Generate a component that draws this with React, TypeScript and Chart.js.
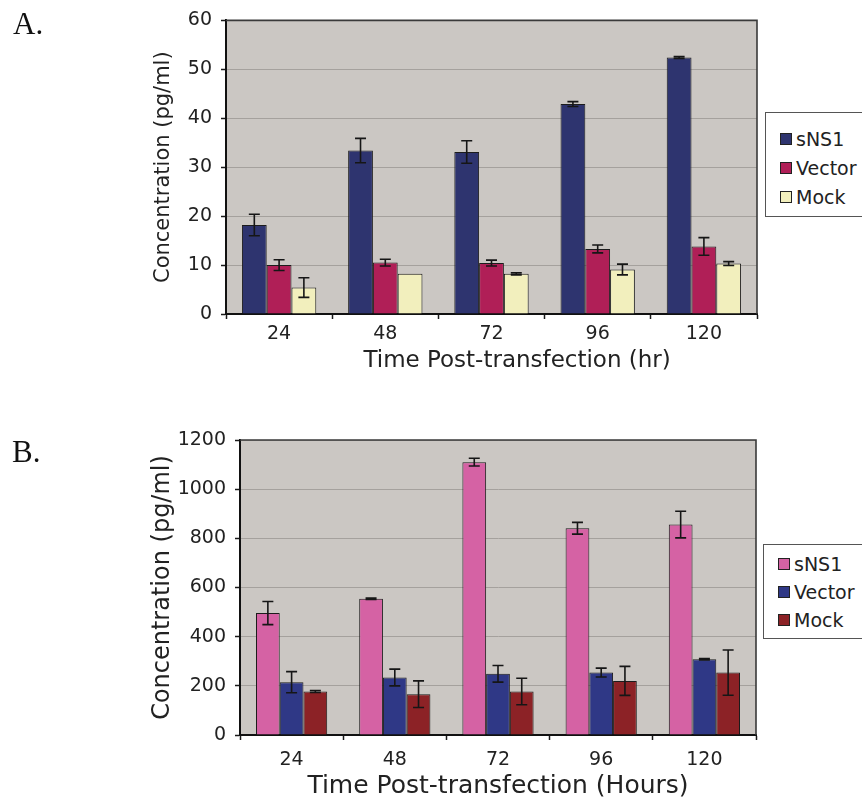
import React, { useEffect, useRef } from 'react';
import { Chart, registerables } from 'chart.js';

Chart.register(...registerables);

// ---------- data ----------
const categories = ['24', '48', '72', '96', '120'];
const seriesNames = ['sNS1', 'Vector', 'Mock'];

// Panel A (pg/ml)
const aSNS1 = [18.2, 33.4, 33.1, 42.9, 52.4];
const aSNS1Err = [2.2, 2.5, 2.3, 0.5, 0.2];
const aVector = [10.0, 10.5, 10.4, 13.3, 13.8];
const aVectorErr = [1.1, 0.7, 0.6, 0.8, 1.8];
const aMock = [5.4, 8.2, 8.2, 9.1, 10.3];
const aMockErr = [2.0, 0, 0.2, 1.1, 0.4];
const aYMax = 60;
const aYStep = 10;

// Panel B (pg/ml)
const bSNS1 = [496, 554, 1110, 841, 856];
const bSNS1Err = [47, 3, 16, 24, 54];
const bVector = [215, 234, 249, 254, 308];
const bVectorErr = [43, 34, 34, 18, 3];
const bMock = [177, 166, 177, 220, 254];
const bMockErr = [4, 54, 54, 59, 92];
const bYMax = 1200;
const bYStep = 200;

const aColors = ['#2e346f', '#b01f57', '#f2efbd'];
const bColors = ['#d562a4', '#2f3886', '#8c2226'];

const yTitle = 'Concentration (pg/ml)';
const aXTitle = 'Time Post-transfection (hr)';
const bXTitle = 'Time Post-transfection (Hours)';

// ---------- style ----------
const FONT = "'DejaVu Sans', 'Liberation Sans', Arial, sans-serif";
const TEXT = '#222222';
const PLOT_BG = '#cbc7c3';
const GRID = '#a5a19d';

const errorBarPlugin = {
  id: 'errorBars',
  afterDatasetsDraw(chart: any, _args: any, opts: any) {
    const errs: number[][] = opts.errors || [];
    const ctx = chart.ctx;
    const y = chart.scales.y;
    ctx.save();
    ctx.strokeStyle = '#161616';
    ctx.lineWidth = 1.6;
    chart.data.datasets.forEach((ds: any, i: number) => {
      const meta = chart.getDatasetMeta(i);
      const e = errs[i] || [];
      meta.data.forEach((el: any, j: number) => {
        const err = e[j];
        if (!err) return;
        const v = ds.data[j];
        const yt = y.getPixelForValue(v + err);
        const yb = y.getPixelForValue(v - err);
        const x = el.x;
        ctx.beginPath();
        ctx.moveTo(x, yt);
        ctx.lineTo(x, yb);
        ctx.moveTo(x - 5.5, yt);
        ctx.lineTo(x + 5.5, yt);
        ctx.moveTo(x - 5.5, yb);
        ctx.lineTo(x + 5.5, yb);
        ctx.stroke();
      });
    });
    ctx.restore();
  },
};

const framePlugin = {
  id: 'plotFrame',
  beforeDraw(chart: any) {
    const { ctx, chartArea: a } = chart;
    ctx.save();
    ctx.fillStyle = PLOT_BG;
    ctx.fillRect(a.left, a.top, a.right - a.left, a.bottom - a.top);
    ctx.restore();
  },
  afterDraw(chart: any) {
    const { ctx, chartArea: a } = chart;
    ctx.save();
    ctx.strokeStyle = '#3a3a3a';
    ctx.lineWidth = 1.6;
    ctx.beginPath();
    ctx.moveTo(a.left, a.top);
    ctx.lineTo(a.right, a.top);
    ctx.lineTo(a.right, a.bottom);
    ctx.stroke();
    ctx.restore();
  },
};

type PanelProps = {
  top: number;
  height: number;
  values: number[][];
  errors: number[][];
  colors: string[];
  yMax: number;
  yStep: number;
  xTitle: string;
  layout: {
    padTop: number;
    padRight: number;
    yWidth: number;
    xHeight: number;
    yTitleSize: number;
    yTitlePad: number;
    xTitleSize: number;
    xTitlePad: number;
    xTitleIndent: number;
    xTickPad: number;
    catPct: number;
  };
};

function Panel(p: PanelProps) {
  const ref = useRef<HTMLCanvasElement | null>(null);
  useEffect(() => {
    if (!ref.current) return;
    const L = p.layout;
    const chart = new Chart(ref.current, {
      type: 'bar',
      data: {
        labels: categories,
        datasets: seriesNames.map((name, i) => ({
          label: name,
          data: p.values[i],
          backgroundColor: p.colors[i],
          borderColor: '#1c1c1c',
          borderWidth: 1,
          categoryPercentage: L.catPct,
          barPercentage: 1.0,
        })),
      },
      options: {
        responsive: false,
        animation: false,
        devicePixelRatio: 1,
        layout: { padding: { left: 0, right: L.padRight, top: L.padTop, bottom: 0 } },
        plugins: {
          legend: { display: false },
          tooltip: { enabled: false },
          errorBars: { errors: p.errors },
        } as any,
        scales: {
          x: {
            grid: {
              display: true,
              drawOnChartArea: false,
              drawTicks: true,
              tickLength: 5,
              tickColor: '#1a1a1a',
              tickWidth: 1.5,
              offset: true,
            },
            border: { display: true, color: '#111111', width: 2 },
            ticks: { padding: L.xTickPad, color: TEXT, font: { family: FONT, size: 19 } },
            title: {
              display: true,
              text: '\u00a0'.repeat(L.xTitleIndent) + p.xTitle,
              color: TEXT,
              font: { family: FONT, size: L.xTitleSize },
              padding: { top: 0, bottom: L.xTitlePad },
            },
            afterFit(scale: any) {
              scale.height = L.xHeight;
            },
          },
          y: {
            min: 0,
            max: p.yMax,
            ticks: {
              stepSize: p.yStep,
              padding: 9,
              color: TEXT,
              font: { family: FONT, size: 19 },
              callback: (v: any) => String(v),
            },
            grid: { color: GRID, lineWidth: 1, tickColor: '#1a1a1a', tickLength: 5, tickWidth: 1.5 },
            border: { display: true, color: '#111111', width: 2 },
            title: {
              display: true,
              text: yTitle,
              color: TEXT,
              font: { family: FONT, size: L.yTitleSize },
              padding: { top: L.yTitlePad, bottom: 0 },
            },
            afterFit(scale: any) {
              scale.width = L.yWidth;
            },
          },
        },
      } as any,
      plugins: [framePlugin, errorBarPlugin],
    });
    return () => chart.destroy();
  }, []);
  return (
    <canvas
      ref={ref}
      width={862}
      height={p.height}
      style={{ position: 'absolute', left: 0, top: p.top, width: 862, height: p.height, display: 'block' }}
    />
  );
}

function Legend({ left, top, height, colors, rows }: { left: number; top: number; height: number; colors: string[]; rows: number[] }) {
  return (
    <div
      style={{
        position: 'absolute',
        left,
        top,
        width: 130,
        height,
        border: '1.5px solid #555',
        background: '#ffffff',
        boxSizing: 'border-box',
      }}
    >
      {seriesNames.map((name, i) => (
        <div
          key={name}
          style={{
            position: 'absolute',
            left: 14,
            top: rows[i] - 12,
            height: 24,
            display: 'flex',
            alignItems: 'center',
            fontFamily: FONT,
            fontSize: 19,
            color: TEXT,
            whiteSpace: 'nowrap',
          }}
        >
          <span
            style={{
              display: 'inline-block',
              width: 10,
              height: 10,
              background: colors[i],
              border: '1px solid #222',
              marginRight: 4,
            }}
          />
          {name}
        </div>
      ))}
    </div>
  );
}

const panelLabelStyle: React.CSSProperties = {
  position: 'absolute',
  fontFamily: "'Liberation Serif', 'Times New Roman', serif",
  fontSize: 31,
  lineHeight: '31px',
  color: '#111',
};

export default function App() {
  return (
    <div
      style={{
        position: 'absolute',
        left: 0,
        top: 0,
        width: 862,
        height: 801,
        overflow: 'hidden',
        background: '#ffffff',
      }}
    >
      <Panel
        top={0}
        height={400}
        values={[aSNS1, aVector, aMock]}
        errors={[aSNS1Err, aVectorErr, aMockErr]}
        colors={aColors}
        yMax={aYMax}
        yStep={aYStep}
        xTitle={aXTitle}
        layout={{
          padTop: 19,
          padRight: 105,
          yWidth: 226,
          xHeight: 86,
          yTitleSize: 21,
          yTitlePad: 151,
          xTitleSize: 23,
          xTitlePad: 25,
          xTitleIndent: 7,
          xTickPad: 4,
          catPct: 0.7,
        }}
      />
      <Panel
        top={400}
        height={401}
        values={[bSNS1, bVector, bMock]}
        errors={[bSNS1Err, bVectorErr, bMockErr]}
        colors={bColors}
        yMax={bYMax}
        yStep={bYStep}
        xTitle={bXTitle}
        layout={{
          padTop: 40,
          padRight: 106,
          yWidth: 240,
          xHeight: 66,
          yTitleSize: 24,
          yTitlePad: 148,
          xTitleSize: 25,
          xTitlePad: 0,
          xTitleIndent: 0,
          xTickPad: 9,
          catPct: 0.69,
        }}
      />
      <Legend left={765} top={112} height={105} colors={aColors} rows={[26, 55, 84]} />
      <Legend left={763} top={544} height={95} colors={bColors} rows={[19, 47, 75]} />
      <div style={{ ...panelLabelStyle, left: 13, top: 8 }}>A.</div>
      <div style={{ ...panelLabelStyle, left: 12, top: 436 }}>B.</div>
    </div>
  );
}
